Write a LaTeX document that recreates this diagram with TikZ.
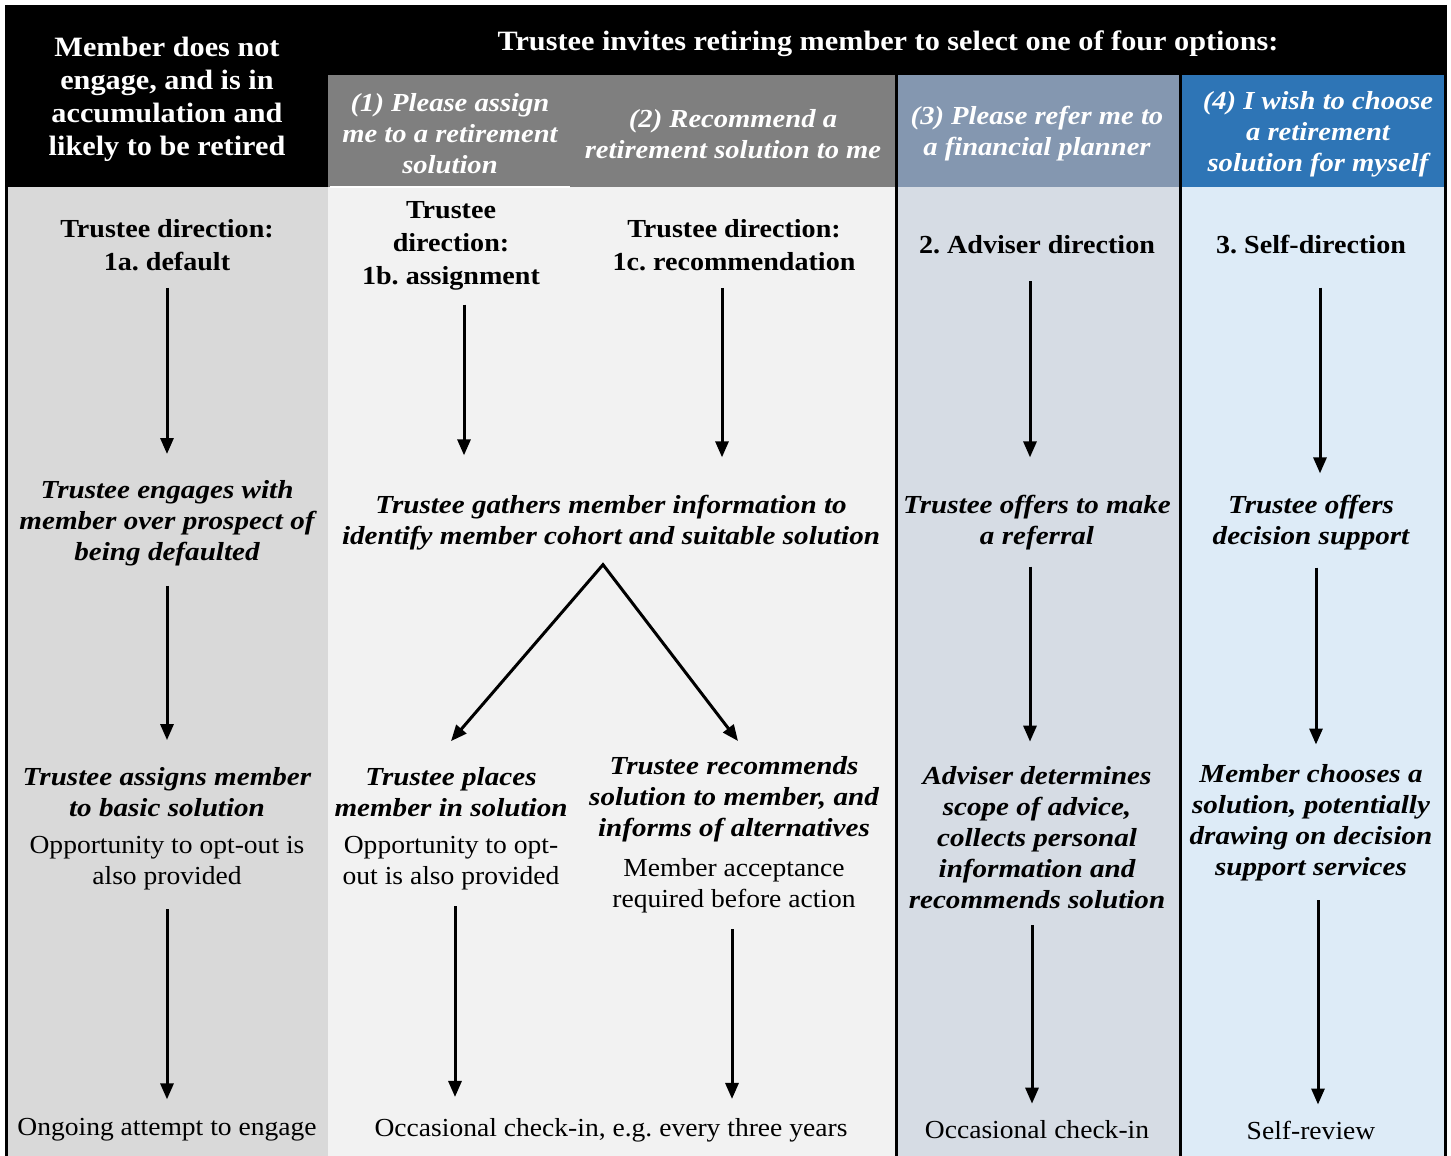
\documentclass[tikz,border=0pt]{standalone}
\usepackage{fontspec}
\setmainfont{Liberation Serif}
\usetikzlibrary{arrows.meta}

\definecolor{hdrgray}{HTML}{7F7F7F}
\definecolor{hdrslate}{HTML}{8497B0}
\definecolor{hdrblue}{HTML}{2E75B6}
\definecolor{bodygray}{HTML}{D9D9D9}
\definecolor{bodylight}{HTML}{F2F2F2}
\definecolor{bodyslate}{HTML}{D6DCE4}
\definecolor{bodyblue}{HTML}{DDEBF7}

\tikzset{
  txt/.style={align=center, inner sep=0pt, font=\fontsize{26}{31}\selectfont\addfontfeatures{FakeStretch=1.06}},
  hd/.style={txt, text=white, font=\fontsize{28}{33}\selectfont\bfseries\addfontfeatures{FakeStretch=1.08}},
  opt/.style={txt, text=white, font=\fontsize{26}{31}\selectfont\bfseries\itshape\addfontfeatures{FakeStretch=1.1}},
  dirbox/.style={txt, font=\fontsize{26}{33}\selectfont\bfseries\addfontfeatures{FakeStretch=1.08}},
  act/.style={txt, font=\fontsize{26}{31}\selectfont\bfseries\itshape\addfontfeatures{FakeStretch=1.12}},
  flow/.style={line width=3pt, -{Triangle[length=16pt,width=13pt]}},
}
\frenchspacing

\begin{document}
\begin{tikzpicture}[x=1pt, y=-1pt]
\useasboundingbox (0,0) rectangle (1451,1156);

% column backgrounds
\fill[black] (5,5) rectangle (1447,187);
\fill[hdrgray] (328,75) rectangle (895,187);
\fill[hdrslate] (897,75) rectangle (1179,187);
\fill[hdrblue] (1181,75) rectangle (1444,187);
\fill[bodygray] (7,187) rectangle (328,1156);
\fill[bodylight] (328,187) rectangle (895,1156);
\fill[bodyslate] (897,187) rectangle (1179,1156);
\fill[bodyblue] (1181,187) rectangle (1444,1156);
\draw[white, line width=1.5pt] (330,187) -- (570,187);

% rules
\draw[line width=3pt] (6.5,5) -- (6.5,1156);
\draw[line width=3pt] (896,75) -- (896,1156);
\draw[line width=3pt] (1180,75) -- (1180,1156);
\draw[line width=3pt] (1445.5,5) -- (1445.5,1156);

% header
\node[hd] (member) at (167,99) {Member does not\\engage, and is in\\accumulation and\\likely to be retired};
\node[hd] (invite) at (888,44) {Trustee invites retiring member to select one of four options:};
\node[opt] (opt1) at (450,134) {(1) Please assign\\me to a retirement\\solution};
\node[opt] (opt2) at (733,134) {(2) Recommend a\\retirement solution to me};
\node[opt] (opt3) at (1037,134) {(3) Please refer me to\\a financial planner};
\node[opt] (opt4) at (1318,134) {(4) I wish to choose\\a retirement\\solution for myself};

% directions
\node[dirbox] (t1a) at (167,245) {Trustee direction:\\1a. default};
\node[dirbox] (t1b) at (451,246) {Trustee\\direction:\\1b. assignment};
\node[dirbox] (t1c) at (734,245) {Trustee direction:\\1c. recommendation};
\node[dirbox] (t2) at (1037,245) {2. Adviser direction};
\node[dirbox] (t3) at (1311,245) {3. Self-direction};

% engagement
\node[act] (e1a) at (167,523) {Trustee engages with\\member over prospect of\\being defaulted};
\node[act] (gather) at (611,523) {Trustee gathers member information to\\identify member cohort and suitable solution};
\node[act] (e2) at (1037,523) {Trustee offers to make\\a referral};
\node[act] (e3) at (1311,523) {Trustee offers\\decision support};

% actions
\node[act] (a1a) at (167,792) {Trustee assigns member\\to basic solution};
\node[txt] (n1a) at (167,863) {Opportunity to opt-out is\\also provided};
\node[act] (a1b) at (451,792) {Trustee places\\member in solution};
\node[txt] (n1b) at (451,863) {Opportunity to opt-\\out is also provided};
\node[act] (a1c) at (734,799) {Trustee recommends\\solution to member, and\\informs of alternatives};
\node[txt] (n1c) at (734,886) {Member acceptance\\required before action};
\node[act] (a2) at (1037,838) {Adviser determines\\scope of advice,\\collects personal\\information and\\recommends solution};
\node[act] (a3) at (1311,823) {Member chooses a\\solution, potentially\\drawing on decision\\support services};

% follow-up
\node[txt] (f1a) at (167,1130) {Ongoing attempt to engage};
\node[txt] (f12) at (611,1130) {Occasional check-in, e.g. every three years};
\node[txt] (f2) at (1037,1130) {Occasional check-in};
\node[txt] (f3) at (1311,1130) {Self-review};

% column 1a
\draw[flow, shorten <=17pt, shorten >=26pt] (t1a.south) -- (e1a.north);
\draw[flow, shorten <=20pt, shorten >=27pt] (e1a.south) -- (a1a.north);
\draw[flow, shorten <=19pt, shorten >=19pt] (n1a.south) -- (f1a.north);
% columns 1b and 1c
\draw[flow, shorten <=14pt, shorten >=40pt] ([xshift=13pt]t1b.south) -- ([xshift=13pt]t1b.south |- gather.north);
\draw[flow, shorten <=17pt, shorten >=38pt] ([xshift=-12pt]t1c.south) -- ([xshift=-12pt]t1c.south |- gather.north);
\coordinate (apex) at ([xshift=-8pt,yshift=-14pt]gather.south);
\draw[line width=3pt, {Triangle[length=16pt,width=13pt]}-{Triangle[length=16pt,width=13pt]}]
  ([yshift=26pt]a1b.north) -- (apex) -- ([xshift=4pt,yshift=15pt]a1c.north);
\draw[flow, shorten <=16pt, shorten >=21pt] ([xshift=4pt]n1b.south) -- ([xshift=4pt]n1b.south |- f12.north);
\draw[flow, shorten <=16pt, shorten >=19pt] ([xshift=-2pt]n1c.south) -- ([xshift=-2pt]n1c.south |- f12.north);
% column 2
\draw[flow, shorten <=27pt, shorten >=38pt] ([xshift=-7pt]t2.south) -- ([xshift=-7pt]e2.north);
\draw[flow, shorten <=16pt, shorten >=25pt] ([xshift=-7pt]e2.south) -- ([xshift=-7pt]a2.north);
\draw[flow, shorten <=16pt, shorten >=17pt] ([xshift=-5pt]a2.south) -- ([xshift=-5pt]f2.north);
% column 3
\draw[flow, shorten <=33pt, shorten >=22pt] ([xshift=9pt]t3.south) -- ([xshift=9pt]e3.north);
\draw[flow, shorten <=17pt, shorten >=20pt] ([xshift=5pt]e3.south) -- ([xshift=5pt]a3.north);
\draw[flow, shorten <=19pt, shorten >=16pt] ([xshift=7pt]a3.south) -- ([xshift=7pt]f3.north);
\end{tikzpicture}
\end{document}
